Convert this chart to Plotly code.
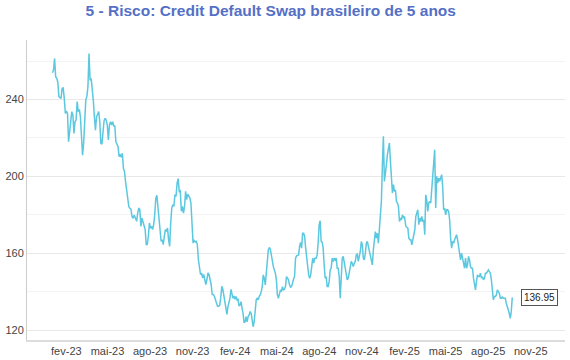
import pandas as pd
import plotly.graph_objects as go

# CDS 5y Brazil, in five consecutive date segments
seg1_dates = ("2023-01-02", "2023-06-30")
seg1 = [253.9, 255.3, 261.4, 251.9, 251, 249, 241.5, 241, 240.6, 245.8, 246, 240.6, 232.8, 234, 232.8,
        218, 225.9, 228.5, 233.7, 232, 222.4, 228.5, 229.3, 238.9, 233.7, 234.9, 231, 217.2, 211, 217.2,
        232.8, 239.7, 241.5, 246.7, 264, 250, 251, 245.8, 239.7, 231, 224, 231, 232.8, 233.7, 228.5,
        217.2, 216.7, 222.4, 229, 230.2, 229.3, 226.7, 218.9, 226.7, 228.5, 226.7, 228.5, 226.2, 226.2,
        218, 216.3, 215.5, 210.3, 211.1, 210, 212, 204.2, 202.5, 197.3, 192.9, 189.5, 184.3, 183.4,
        182.9, 179, 178.2, 179.9, 178.2]

seg2_dates = ("2023-07-03", "2024-01-10")
seg2 = [176.6, 180.9, 183.5, 182.7, 174, 178.3, 176.6, 174, 172.3, 164.5, 164.5, 168.8, 175.7, 173.1,
        174, 172.3, 174.9, 180.1, 188.7, 190.1, 183.5, 175.7, 172.3, 166.2, 167.1, 164.5, 168.8, 172.3,
        171.4, 173.1, 167.1, 163.6, 175.7, 183.5, 185.3, 184.4, 190.5, 189.6, 196.5, 198.8, 192.2, 192.5,
        181.8, 184.4, 180.9, 184.4, 192.2, 187.9, 190.8, 189.6, 188.7, 186.1, 173.1, 165.3, 166.6, 165.9,
        166.2, 164.5, 156.7, 152.3, 148.9, 149.7, 147.1, 148.9, 146.3, 143.7, 146.3, 149.7, 148.9, 146.3,
        143.7, 138.5, 138.5, 137.6, 135.9, 133.3, 132.4, 132.4, 132.8, 136.7, 142.8, 141.1, 137.6, 133.3]

seg3_dates = ("2024-01-12", "2024-07-22")
seg3 = [129.8, 128.1, 132.2, 133.9, 136.5, 141.2, 139.1, 136.5, 137.7, 136, 137.4, 135.7, 136, 132.5,
        133, 134.8, 131.3, 128.7, 123.8, 124.3, 127, 124.3, 127, 127.8, 129.6, 128.7, 125.2, 121.7, 124.3,
        128.7, 135.7, 136.5, 135.7, 137.4, 138.3, 140, 142.6, 148.7, 147, 143.5, 149.6, 154.8, 161.7, 163,
        162.1, 159.1, 154.8, 153, 151.3, 149.6, 146.1, 138.3, 136.5, 139.1, 140.9, 140, 142.6, 140.9,
        141.2, 142.6, 147.8, 147, 146.1, 143.5, 142.3, 142.6, 145.2, 146.4, 147.8, 157.4, 158.6, 159.1,
        159.1, 163.5, 165.6, 162.6, 170.4, 170.4, 168.7, 162.6, 157.4, 152.2, 148.7, 147, 148.7, 153,
        157.4, 154.8, 157.4]

seg4_dates = ("2024-07-25", "2025-02-01")
seg4 = [157.4, 159.1, 165.2, 174.8, 176.9, 166.1, 165.7, 162.6, 153.9, 147, 147.8, 142.6, 142.6, 145.2,
        151.3, 152.2, 157.4, 155.7, 157.4, 156.5, 157.4, 152.2, 152.2, 147.8, 136.5, 152.2, 157.4, 158.3,
        154.8, 153, 149.6, 146.1, 147, 150.4, 153.9, 155.7, 154.8, 153, 154.8, 155.7, 159.1, 159.5, 155.7,
        158.3, 160.9, 166.1, 164.3, 157.4, 156.5, 160, 165.2, 166.1, 163.5, 160.9, 158.3, 155.7, 153.9,
        161.7, 167.8, 171.3, 167.8, 170.4, 165.2, 173.9, 177.4, 187, 206.1, 220.9, 197.4, 204.3, 206.1,
        211.3, 215.7, 217.4, 207.8, 200.9, 191.3, 195.7, 192.2, 193, 187, 186.1, 184.3, 176.5, 178.3,
        177.4, 180, 178.6, 179.1]

seg5_dates = ("2025-02-04", "2025-09-22")
seg5 = [173.9, 173.6, 173, 167.8, 167, 167, 164.3, 167, 170.4, 172.2, 179.1, 181.7, 182.6, 174.8, 178.3,
        176.5, 179.1, 176.5, 177.4, 169.6, 190.4, 187.8, 181.7, 186.1, 187, 186.1, 192.2, 200.9, 204.3,
        213.9, 183.5, 200, 196.5, 199.1, 197.4, 200, 200.9, 194.8, 182.6, 183.5, 180, 182.6, 182.6, 181.7,
        177.4, 167.8, 162.6, 166.1, 165.2, 167, 168.7, 169.6, 167, 162.6, 160.9, 156.5, 160, 156.5, 153.9,
        152.2, 157.4, 152.2, 153.9, 158.3, 156.5, 153, 152.2, 152.2, 147, 144.3, 140.9, 145.2, 148.7,
        147.8, 147.8, 149.6, 147, 147.8, 146.1, 147, 149.6, 149.6, 150.4, 151.3, 150.4, 149.6, 146.1,
        141.7, 135.7, 137.4, 137.4, 138.3, 140.9, 140, 139.1, 136.5, 136.5, 137.4, 136.5, 136.5, 136.5,
        133.9, 131.3, 130.4, 128.7, 126.1, 129.6, 136.95]

tick_dates = ["2023-02-01", "2023-05-01", "2023-08-01", "2023-11-01", "2024-02-01", "2024-05-01",
              "2024-08-01", "2024-11-01", "2025-02-01", "2025-05-01", "2025-08-01", "2025-11-01"]
tick_labels = ["fev-23", "mai-23", "ago-23", "nov-23", "fev-24", "mai-24",
               "ago-24", "nov-24", "fev-25", "mai-25", "ago-25", "nov-25"]
y_ticks = [120, 160, 200, 240]

segments = [(seg1_dates, seg1), (seg2_dates, seg2), (seg3_dates, seg3), (seg4_dates, seg4), (seg5_dates, seg5)]
dates, values = [], []
for (d0, d1), vals in segments:
    dates.extend(pd.date_range(d0, d1, periods=len(vals)))
    values.extend(vals)

title = "5 - Risco: Credit Default Swap brasileiro de 5 anos"
line_color = "#5BC8E0"
font = "Liberation Sans, Arial, sans-serif"

fig = go.Figure()
fig.add_trace(go.Scatter(x=dates, y=values, mode="lines",
                         line=dict(color=line_color, width=1.5), hoverinfo="skip"))

fig.add_annotation(x=dates[-1], y=values[-1], text=f"{values[-1]:.2f}", showarrow=False,
                   xanchor="left", yanchor="middle", xshift=9,
                   font=dict(size=10, color="#222", family=font),
                   bgcolor="white", bordercolor="#555", borderwidth=1, borderpad=2)

fig.update_layout(
    width=570, height=360,
    margin=dict(l=27, r=5, t=40, b=20),
    paper_bgcolor="white", plot_bgcolor="white",
    showlegend=False,
    title=dict(text=f"<b>{title}</b>", x=0.475, xanchor="center", y=0.97, yanchor="middle",
               font=dict(size=15.5, color="#5470C6", family=font)),
    font=dict(family=font, size=11, color="#444"),
)
fig.update_xaxes(range=["2022-11-08", "2026-01-14"], tickvals=tick_dates, ticktext=tick_labels,
                 showgrid=False, showline=True, linecolor="#dcdcdc", linewidth=2, automargin=False,
                 ticks="", tickfont=dict(size=11, color="#444"))
fig.update_yaxes(range=[114.8, 271], tickvals=y_ticks, showgrid=True, gridcolor="#e8e8e8",
                 minor=dict(dtick=20, tick0=120, showgrid=True, gridcolor="#f3f3f3"),
                 showline=True, linecolor="#cccccc", linewidth=1, ticks="", zeroline=False,
                 automargin=False, tickfont=dict(size=11, color="#444"))

fig.write_html("out.html", config={"displayModeBar": False},
               post_script="document.body.style.margin='0';")
